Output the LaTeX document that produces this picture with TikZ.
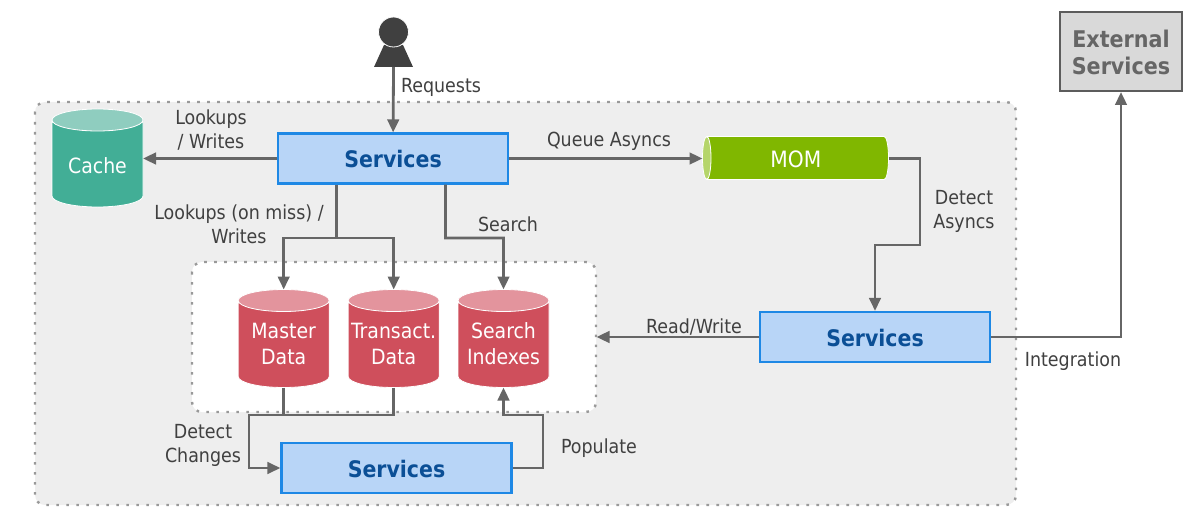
\documentclass[tikz,border=0pt]{standalone}
\usepackage{fontspec}
\setmainfont{DejaVu Sans Condensed}
\usetikzlibrary{arrows.meta,shapes.geometric}

\definecolor{linegray}{HTML}{666666}
\definecolor{textgray}{HTML}{404040}
\definecolor{zonegray}{HTML}{EEEEEE}
\definecolor{dotgray}{HTML}{999999}
\definecolor{svcfill}{HTML}{B8D5F7}
\definecolor{svcline}{HTML}{1E88E5}
\definecolor{svctext}{HTML}{0B4F96}
\definecolor{dbred}{HTML}{CF4F5C}
\definecolor{dbtop}{HTML}{E3949D}
\definecolor{cachegreen}{HTML}{42AE96}
\definecolor{cachetop}{HTML}{8FCDBF}
\definecolor{momgreen}{HTML}{80B700}
\definecolor{momend}{HTML}{B5D56A}

\tikzset{
    conn/.style={draw=linegray, line width=2.8pt},
    arr/.style={conn, -{Triangle[length=13pt,width=11.5pt]}},
    zone/.style={draw=dotgray, line width=2.4pt, rounded corners=10pt, dash pattern=on 2.6pt off 7.4pt},
    svcbox/.style={draw=svcline, fill=svcfill, line width=2.2pt, minimum width=230pt, minimum height=50pt,
        inner sep=0pt, outer sep=1.1pt, text=svctext, text height=19pt, font=\fontsize{22.8}{26}\selectfont\bfseries},
    lbl/.style={text=textgray, font=\fontsize{19.4}{24}\selectfont, align=center, inner sep=0pt},
    cyltext/.style={text=white, align=center, inner sep=0pt, font=\fontsize{21}{26}\selectfont},
    cyl/.style={cylinder, shape border rotate=90, aspect=1, draw=white, line width=0.8pt, anchor=shape center,
        minimum width=91pt, minimum height=98pt, inner sep=0pt, outer sep=0pt, cylinder uses custom fill,
        execute at begin node={\rule{22pt}{0pt}}},
    store/.style={cyl, cylinder body fill=dbred, cylinder end fill=dbtop},
}

\begin{document}
\begin{tikzpicture}[x=1pt, y=-1pt]
    \useasboundingbox (0,0) rectangle (1190,513);

    % zones
    \draw[zone, fill=zonegray] (35,102) rectangle (1016,505);
    \draw[zone, fill=white] (192,262) rectangle (596,412);

    % user
    \fill[textgray] (374,67) -- (384,45) -- (403,45) -- (413,67) -- cycle;
    \filldraw[fill=textgray, draw=white, line width=0.8pt] (393.5,32) circle (15pt);
    \coordinate (user) at (393.5,67);

    % boxes
    \node[svcbox] (front) at (393,158.5) {Services};
    \node[svcbox] (async) at (875,337) {Services};
    \node[svcbox] (cdc) at (396.5,468) {Services};
    \node[draw=linegray!90!black, fill=black!15, line width=2.5pt, minimum width=122pt, minimum height=79pt,
        inner sep=0pt, outer sep=1pt, text=linegray, align=center, font=\fontsize{23}{27}\selectfont\bfseries]
        (ext) at (1121,51.5) {\rule{0pt}{20pt}External\\Services};

    % stores
    \node[cyl, cylinder body fill=cachegreen, cylinder end fill=cachetop,
        label={[cyltext, yshift=-2pt]center:Cache}] (cache) at (97.5,158) {};
    \node[store, label={[cyltext]center:{Master\\Data}}] (master) at (283.7,338.5) {};
    \node[store, label={[cyltext]center:{Transact.\\Data}}] (trans) at (393.7,338.5) {};
    \node[store, label={[cyltext, yshift=1pt]center:{Search\\Indexes}}] (index) at (503.5,338.5) {};
    \node[cylinder, shape border rotate=180, aspect=0.5, draw=white, line width=0.8pt, minimum width=43pt,
        minimum height=186pt, inner sep=0pt, outer sep=0pt, cylinder uses custom fill, cylinder body fill=momgreen,
        cylinder end fill=momend, anchor=shape center,
        execute at begin node={\rule{0pt}{17pt}},
        label={[text=white, inner sep=0pt, font=\fontsize{22.5}{26}\selectfont, xshift=-2pt, yshift=-1.5pt]center:MOM}]
        (mom) at (795.5,158) {};

    % bends
    \coordinate (misstap) at (336.3,238);
    \coordinate (searchtap) at (445.5,238);
    \coordinate (asyncbend) at (920,245);
    \coordinate (cdcbus) at (249,415);
    \coordinate (popbus) at (543,415);

    % connectors
    \draw[arr] (user) -- (front);
    \draw[arr] (front) -- (cache.east |- front);
    \draw[arr] (front) -- (mom.west |- front);
    \draw[conn] (misstap |- front.south) -- (misstap);
    \draw[arr] (misstap) -| (master.north);
    \draw[arr] (misstap) -| (trans.north);
    \draw[arr] (searchtap |- front.south) |- (searchtap -| index) -- (index.north);
    \draw[arr] (mom.east |- front) -| (asyncbend) -| (async.north);
    \draw[arr] (async) -- (596.5,337);
    \draw[arr] (async) -| (ext.south);
    \draw[conn] (master.south) -- (master.south |- cdcbus);
    \draw[arr] (trans.south) |- (cdcbus) |- (cdc.west);
    \draw[arr] (cdc.east) -| (popbus) -| (index.south);

    % labels
    \node[lbl] (lreq) at (441,87) {Requests};
    \node[lbl] (lcache) at (211,130) {Lookups\\/ Writes};
    \node[lbl] (lqueue) at (609,141) {Queue Asyncs};
    \node[lbl] (lmiss) at (239,224) {Lookups (on miss) /\\Writes};
    \node[lbl] (lsearch) at (508,224) {Search};
    \node[lbl] (ldetect) at (964,211) {Detect\\Asyncs};
    \node[lbl] (lrw) at (694,327) {Read/Write};
    \node[lbl] (lint) at (1073,361) {Integration};
    \node[lbl] (lchg) at (203,445) {Detect\\Changes};
    \node[lbl] (lpop) at (599,448) {Populate};
\end{tikzpicture}
\end{document}
